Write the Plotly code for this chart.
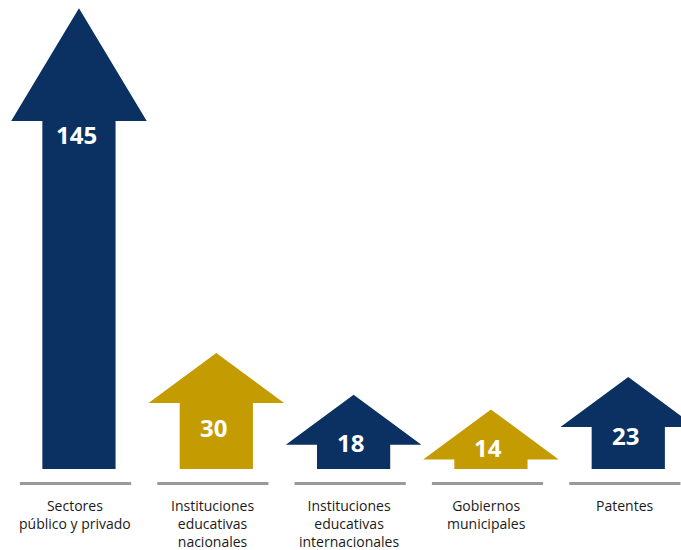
import plotly.graph_objects as go

# Data
categories = [
    "Sectores<br>público y privado",
    "Instituciones<br>educativas<br>nacionales",
    "Instituciones<br>educativas<br>internacionales",
    "Gobiernos<br>municipales",
    "Patentes",
]
values = [145, 30, 18, 14, 23]
colors = ["#0a3161", "#c49b00", "#0a3161", "#c49b00", "#0a3161"]

# Display scale: arrow length grows as a compressed power of the value
SCALE_A = 5.92
SCALE_P = 0.875


def arrow_length(v):
    return SCALE_A * v ** SCALE_P


HEAD_HALF = 0.4935   # half width of the arrow head (category units)
BODY_HALF = 0.2666   # half width of the shaft (category units)
FONT = "Open Sans, Liberation Sans, Arial, sans-serif"

fig = go.Figure()
annotations = []
shapes = []

for i, (cat, v, col) in enumerate(zip(categories, values, colors)):
    h = arrow_length(v)
    head_h = max(50.0, 0.245 * h)
    hb = h - head_h
    xs = [i - BODY_HALF, i - BODY_HALF, i - HEAD_HALF, i, i + HEAD_HALF,
          i + BODY_HALF, i + BODY_HALF, i - BODY_HALF]
    ys = [0, hb, hb, h, hb, hb, 0, 0]
    fig.add_trace(go.Scatter(
        x=xs, y=ys, mode="lines", fill="toself", fillcolor=col,
        line=dict(width=0, color=col), hoverinfo="skip", showlegend=False,
    ))

    # value label inside the arrow
    if hb > 100:
        ly = hb - 13
    else:
        ly = max(14.0, 0.36 * h)
    annotations.append(dict(
        x=i - 0.02, y=ly, xref="x", yref="y", text=f"<b>{v}</b>",
        showarrow=False, xanchor="center", yanchor="middle",
        font=dict(family=FONT, size=24, color="white"),
    ))

    # gray rule under each arrow
    shapes.append(dict(
        type="line", xref="x", yref="y", x0=i - 0.43, x1=i + 0.38,
        y0=-14.5, y1=-14.5, line=dict(color="#9a9a9a", width=3),
    ))

    # category label
    annotations.append(dict(
        x=i - 0.03, y=-25, xref="x", yref="y", text=cat,
        showarrow=False, xanchor="center", yanchor="top", align="center",
        font=dict(family=FONT, size=14, color="#1a1a1a"),
    ))

fig.update_layout(
    width=681, height=550,
    margin=dict(l=0, r=0, t=0, b=0),
    paper_bgcolor="white", plot_bgcolor="white",
    xaxis=dict(range=[-0.575, 4.384], visible=False, fixedrange=True),
    yaxis=dict(range=[-81, 469], visible=False, fixedrange=True),
    annotations=annotations,
    shapes=shapes,
)

fig.write_html("out.html")
